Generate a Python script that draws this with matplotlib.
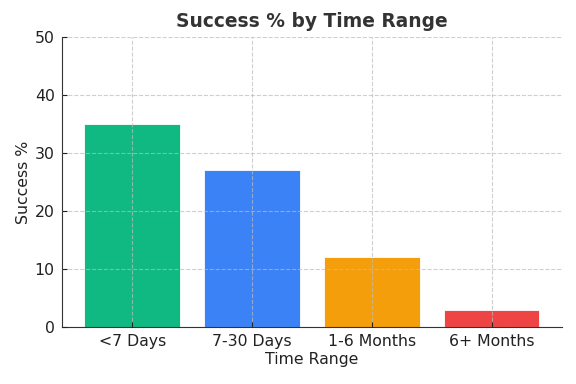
import matplotlib.pyplot as plt

categories = ["<7 Days", "7-30 Days", "1-6 Months", "6+ Months"]
success_pct = [35, 27, 12, 3]
bar_colors = ["#10B981", "#3B82F6", "#F59E0B", "#EF4444"]

plt.rcParams["text.color"] = "#222222"
plt.rcParams["axes.labelcolor"] = "#222222"
plt.rcParams["xtick.color"] = "#222222"
plt.rcParams["ytick.color"] = "#222222"
plt.rcParams["axes.edgecolor"] = "#333333"

fig, ax = plt.subplots(figsize=(5.76, 3.84), dpi=100)
ax.bar(categories, success_pct, color=bar_colors, width=0.8,
       edgecolor="white", linewidth=0.6, zorder=1)
ax.set_ylim(0, 50)
ax.set_title("Success % by Time Range", fontsize=13.4, fontweight="bold",
             color="#333333", pad=7)
ax.set_xlabel("Time Range", fontsize=11.3, labelpad=2)
ax.set_ylabel("Success %", fontsize=11.3, labelpad=3)
ax.tick_params(axis="both", direction="in", labelsize=11.3, pad=5)
ax.grid(True, linestyle="--", color="#bbbbbb", alpha=0.7, linewidth=0.8, zorder=2)
ax.set_axisbelow(False)
ax.spines["top"].set_visible(False)
ax.spines["right"].set_visible(False)
fig.subplots_adjust(left=0.107, right=0.976, top=0.904, bottom=0.148)
plt.savefig("out.png", dpi=100)
plt.close()
